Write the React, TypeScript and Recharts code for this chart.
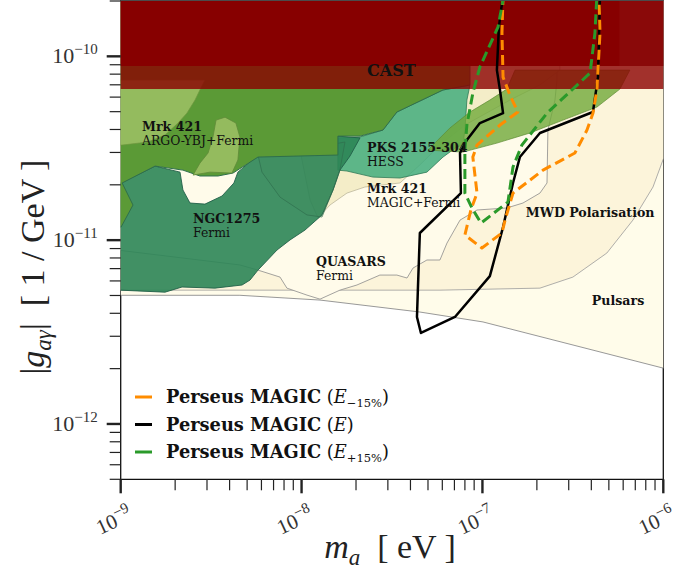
import React from 'react';
import { ComposedChart, Scatter, XAxis, YAxis, ReferenceArea, Customized } from 'recharts';

// all region outlines are [log10(m_a / eV), log10(|g| * GeV)]
type Pt = [number, number];

const CAST_BAND: Pt[] = [[-9.05, -10.178], [-5.95, -10.178], [-5.95, -9.6], [-9.05, -9.6]];
const CAST_CORE: Pt[] = [[-9.05, -10.053], [-6.24, -10.053], [-6.24, -9.6], [-9.05, -9.6]];
const CAST_EDGE: Pt[] = [[-6.24, -10.053], [-5.95, -10.053], [-5.95, -9.6], [-6.24, -9.6]];

const PULSARS: Pt[] = [
  [-9.05, -11.3], [-8.341, -11.3], [-7.898, -11.326], [-7.346, -11.391], [-6.997, -11.445],
  [-5.95, -11.709], [-5.95, -9.6], [-9.05, -9.6],
];

const MWD: Pt[] = [
  [-9.05, -11.272], [-7.235, -11.272], [-6.682, -11.261], [-6.5, -11.201], [-6.312, -11.07],
  [-6.168, -10.891], [-6.057, -10.711], [-6.002, -10.564], [-5.96, -10.483], [-5.95, -9.6], [-9.05, -9.6],
];

const QUASARS: Pt[] = [
  [-9.05, -9.6], [-9.05, -11.05], [-8.341, -11.135], [-8.241, -11.163], [-8.119, -11.201],
  [-8.081, -11.261], [-7.97, -11.299], [-7.898, -11.321], [-7.788, -11.272], [-7.694, -11.244],
  [-7.567, -11.19], [-7.473, -11.19], [-7.417, -11.206], [-7.384, -11.152], [-7.307, -11.108],
  [-7.235, -11.108], [-7.196, -11.016], [-7.124, -10.891], [-7.03, -10.836], [-6.865, -10.825],
  [-6.776, -10.798], [-6.682, -10.744], [-6.643, -10.689], [-6.638, -10.401], [-6.599, -10.238],
  [-6.588, -10.129], [-6.588, -9.6],
];

const MRK421_MAGIC: Pt[] = [
  [-7.909, -10.88], [-7.843, -10.809], [-7.749, -10.744], [-7.65, -10.711], [-7.456, -10.689],
  [-7.346, -10.591], [-7.235, -10.483], [-7.097, -10.374], [-6.848, -10.238], [-6.682, -10.156],
  [-6.572, -10.075], [-6.572, -9.6], [-8.009, -9.6], [-8.009, -10.51], [-7.953, -10.782],
];

const PKS2155: Pt[] = [
  [-7.799, -10.444], [-7.677, -10.439], [-7.55, -10.401], [-7.473, -10.303], [-7.218, -10.183],
  [-7.069, -10.156], [-7.086, -10.238], [-7.097, -10.401], [-7.108, -10.483], [-7.141, -10.493],
  [-7.218, -10.548], [-7.307, -10.63], [-7.456, -10.662], [-7.605, -10.657], [-7.749, -10.624],
  [-7.799, -10.619],
];

const NGC1275: Pt[] = [
  [-9.05, -11.27], [-8.755, -11.283], [-8.661, -11.255], [-8.479, -11.261], [-8.329, -11.244],
  [-8.285, -11.217], [-8.241, -11.163], [-8.136, -11.054], [-8.064, -10.999], [-7.981, -10.945],
  [-7.887, -10.863], [-7.826, -10.727], [-7.788, -10.619], [-7.732, -10.542], [-7.677, -10.444],
  [-7.799, -10.434], [-7.909, -10.493], [-8.108, -10.537], [-8.186, -10.51], [-8.241, -10.537],
  [-8.352, -10.63], [-8.374, -10.689], [-8.44, -10.76], [-8.534, -10.804], [-8.617, -10.798],
  [-8.656, -10.727], [-8.672, -10.63], [-8.81, -10.597], [-9.0, -10.689], [-9.05, -10.7],
];

// faint inner contour visible through the NGC1275 band
const NGC1275_INNER: Pt[] = [
  [-8.241, -10.537], [-8.219, -10.63], [-8.119, -10.766], [-7.97, -10.863], [-7.887, -10.874],
  [-7.826, -10.727], [-7.788, -10.619], [-7.76, -10.466], [-7.909, -10.493], [-8.108, -10.537],
];

const ARGO_MAIN: Pt[] = [
  [-9.05, -9.6], [-7.069, -9.6], [-7.069, -10.156], [-7.218, -10.183], [-7.473, -10.303],
  [-7.55, -10.401], [-7.677, -10.434], [-7.799, -10.434], [-7.799, -10.537], [-8.241, -10.548],
  [-8.379, -10.635], [-8.462, -10.651], [-8.562, -10.651], [-8.656, -10.619], [-8.81, -10.597],
  [-8.992, -10.689], [-8.932, -10.809], [-8.998, -10.929], [-9.05, -10.93],
];

const ARGO_LEFT: Pt[] = [
  [-9.05, -10.129], [-8.534, -10.129], [-8.562, -10.183], [-8.589, -10.238], [-8.634, -10.309],
  [-8.683, -10.363], [-8.755, -10.428], [-8.849, -10.466], [-8.992, -10.483], [-9.05, -10.483],
];

const ARGO_TONGUE: Pt[] = [
  [-8.423, -10.331], [-8.473, -10.347], [-8.49, -10.439], [-8.517, -10.526], [-8.562, -10.581],
  [-8.6, -10.646], [-8.506, -10.63], [-8.385, -10.635], [-8.352, -10.564], [-8.341, -10.439],
  [-8.363, -10.363],
];

const ARGO_LENS: Pt[] = [
  [-7.301, -10.51], [-7.108, -10.521], [-6.92, -10.472], [-6.737, -10.417], [-6.555, -10.347],
  [-6.367, -10.276], [-6.24, -10.178], [-6.185, -10.075], [-6.82, -10.075], [-6.865, -10.178],
  [-6.959, -10.238], [-7.069, -10.303], [-7.18, -10.39], [-7.246, -10.455],
];

const PERSEUS_NOMINAL: Pt[] = [
  [-6.886, -9.666], [-6.909, -9.841], [-6.92, -10.075], [-6.903, -10.183], [-6.886, -10.309],
  [-7.014, -10.363], [-7.086, -10.455], [-7.124, -10.526], [-7.119, -10.744], [-7.346, -10.961],
  [-7.357, -11.272], [-7.362, -11.418], [-7.34, -11.505], [-7.152, -11.418], [-6.959, -11.196],
  [-6.886, -10.929], [-6.831, -10.689], [-6.793, -10.548], [-6.682, -10.417], [-6.389, -10.303],
  [-6.361, -10.113], [-6.35, -9.666],
];

const PERSEUS_MINUS: Pt[] = [
  [-6.886, -9.666], [-6.892, -9.873], [-6.886, -10.113], [-6.848, -10.211], [-6.804, -10.303],
  [-6.903, -10.374], [-7.03, -10.483], [-7.053, -10.548], [-7.03, -10.744], [-7.064, -10.836],
  [-7.097, -10.972], [-7.003, -11.043], [-6.892, -10.961], [-6.875, -10.891], [-6.831, -10.744],
  [-6.665, -10.619], [-6.489, -10.526], [-6.422, -10.401], [-6.389, -10.309], [-6.367, -10.183],
  [-6.35, -9.873], [-6.356, -9.666],
];

const PERSEUS_PLUS: Pt[] = [
  [-6.881, -9.666], [-6.914, -9.841], [-7.014, -10.058], [-7.053, -10.2], [-7.086, -10.374],
  [-7.097, -10.51], [-7.097, -10.744], [-7.058, -10.825], [-7.008, -10.907], [-6.859, -10.793],
  [-6.831, -10.602], [-6.782, -10.483], [-6.643, -10.309], [-6.405, -10.091], [-6.378, -9.873],
  [-6.367, -9.666],
];

// label anchors (left end of the first line's baseline)
const LABELS = [
  { key: 'cast', at: [-7.638, -10.107] as Pt, title: 'CAST', sub: '' },
  { key: 'argo', at: [-8.882, -10.406] as Pt, title: 'Mrk 421', sub: 'ARGO-YBJ+Fermi' },
  { key: 'pks', at: [-7.638, -10.521] as Pt, title: 'PKS 2155-304', sub: 'HESS' },
  { key: 'magic', at: [-7.638, -10.744] as Pt, title: 'Mrk 421', sub: 'MAGIC+Fermi' },
  { key: 'ngc', at: [-8.6, -10.907] as Pt, title: 'NGC1275', sub: 'Fermi' },
  { key: 'quasars', at: [-7.92, -11.141] as Pt, title: 'QUASARS', sub: 'Fermi' },
  { key: 'mwd', at: [-6.76, -10.874] as Pt, title: 'MWD Polarisation', sub: '' },
  { key: 'pulsars', at: [-6.395, -11.353] as Pt, title: 'Pulsars', sub: '' },
];

const LEGEND = [
  { key: 'minus', label: 'Perseus MAGIC', sub: '−15%', color: '#ff8c00' },
  { key: 'nominal', label: 'Perseus MAGIC', sub: '', color: '#000000' },
  { key: 'plus', label: 'Perseus MAGIC', sub: '+15%', color: '#2a9a2a' },
];

const X_DECADES = [-9, -8, -7];
const Y_DECADES = [-13, -12, -11, -10];
const MANTISSAS = [1, 2, 3, 4, 5, 6, 7, 8, 9];
const X_DOMAIN: [number, number] = [1e-9, 1e-6];
const Y_DOMAIN: [number, number] = [5e-13, 2e-10];

const X_TICKS = [...X_DECADES.flatMap((d) => MANTISSAS.map((k) => k * 10 ** d)), 1e-6];
const Y_TICKS = Y_DECADES.flatMap((d) => MANTISSAS.map((k) => k * 10 ** d)).filter(
  (v) => v >= Y_DOMAIN[0] * 0.999 && v <= Y_DOMAIN[1] * 1.001,
);

const toData = (pts: Pt[]) => pts.map(([lm, lg]) => ({ m: 10 ** lm, g: 10 ** lg }));

const REGIONS = [
  { key: 'pulsars', pts: PULSARS, fill: '#fffcea', opacity: 1, stroke: '#8c8c8c', sw: 0.9 },
  { key: 'mwd', pts: MWD, fill: '#fcf4da', opacity: 1, stroke: '#9a9a9a', sw: 0.8 },
  { key: 'quasars', pts: QUASARS, fill: '#fffbea', opacity: 1, stroke: '#8c8c8c', sw: 0.8 },
  { key: 'magic', pts: MRK421_MAGIC, fill: '#f4edc8', opacity: 1, stroke: '#a8a288', sw: 0.6 },
  { key: 'pks', pts: PKS2155, fill: '#42ac7c', opacity: 0.85, stroke: '#2f7a57', sw: 0.8 },
  { key: 'ngc', pts: NGC1275, fill: '#2c8556', opacity: 0.9, stroke: '#22604a', sw: 0.9 },
  { key: 'ngcInner', pts: NGC1275_INNER, fill: '#3f7f3a', opacity: 0.05, stroke: '#2f6e4e', sw: 0.7 },
  { key: 'argoMain', pts: ARGO_MAIN, fill: '#5b9a36', opacity: 1, stroke: '#2f6f4c', sw: 1 },
  { key: 'argoLeft', pts: ARGO_LEFT, fill: '#94bb5e', opacity: 1, stroke: '#6f963f', sw: 0.7 },
  { key: 'argoTongue', pts: ARGO_TONGUE, fill: '#94bb5e', opacity: 1, stroke: '#5f8a38', sw: 0.8 },
  { key: 'argoLens', pts: ARGO_LENS, fill: '#70a939', opacity: 0.8, stroke: '#5d8b33', sw: 0.7 },
  { key: 'castBand', pts: CAST_BAND, fill: '#8b0000', opacity: 0.8, stroke: 'none', sw: 0 },
  { key: 'castCore', pts: CAST_CORE, fill: '#870000', opacity: 1, stroke: 'none', sw: 0 },
  { key: 'castEdge', pts: CAST_EDGE, fill: '#8a0909', opacity: 1, stroke: 'none', sw: 0 },
];

const CONTOURS = [
  { key: 'nominal', pts: PERSEUS_NOMINAL, color: '#000000', dash: undefined, width: 2.5 },
  { key: 'minus', pts: PERSEUS_MINUS, color: '#ff8c00', dash: '10 5', width: 3 },
  { key: 'plus', pts: PERSEUS_PLUS, color: '#2a9a2a', dash: '10 5', width: 3 },
];

const SERIF = '"DejaVu Serif", serif';
const TICK_FONT = '"Liberation Serif", serif';

const isMajor = (v: number) => Math.abs(Math.log10(v) - Math.round(Math.log10(v))) < 1e-6;
const expOf = (v: number) => {
  const e = Math.round(Math.log10(v));
  return (e < 0 ? '−' : '') + Math.abs(e);
};

function XTick({ x, y, payload }: any) {
  const v = payload.value;
  const major = isMajor(v);
  return (
    <g>
      <line x1={x} x2={x} y1={y} y2={y + (major ? 14 : 11)} stroke="#222" strokeWidth={major ? 2.4 : 1.2} />
      {major && (
        <text
          transform={`translate(${x + 13},${y + 40}) rotate(-25)`}
          textAnchor="end"
          fontFamily={TICK_FONT}
          fontSize={21}
          fill="#333"
        >
          10
          <tspan dy={-9} fontSize={15}>
            {expOf(v)}
          </tspan>
        </text>
      )}
    </g>
  );
}

function YTick({ x, y, payload }: any) {
  const v = payload.value;
  const major = isMajor(v);
  return (
    <g>
      <line x1={x - (major ? 14 : 11)} x2={x} y1={y} y2={y} stroke="#222" strokeWidth={major ? 2.4 : 1.2} />
      {major && (
        <text x={x - 23} y={y + 7} textAnchor="end" fontFamily={TICK_FONT} fontSize={22} fill="#333">
          10
          <tspan dy={-9} fontSize={15}>
            {expOf(v)}
          </tspan>
        </text>
      )}
    </g>
  );
}

function RegionLabel({ cx, cy, title, sub, big }: any) {
  return (
    <g fontFamily={SERIF} fill="#111">
      <text x={cx} y={cy} fontSize={big ? 16 : 12.6} fontWeight="bold">
        {title}
      </text>
      {sub && (
        <text x={cx} y={cy + 14} fontSize={12.4}>
          {sub}
        </text>
      )}
    </g>
  );
}

function Titles() {
  return (
    <g fill="#222" fontFamily={TICK_FONT}>
      <text x={390} y={558} textAnchor="middle" fontSize={34} style={{ whiteSpace: 'pre' }}>
        <tspan fontStyle="italic">m</tspan>
        <tspan dy={7} fontSize={23} fontStyle="italic">a</tspan>
        <tspan dy={-7}>{'  [ eV ]'}</tspan>
      </text>
      <text transform="translate(44,267) rotate(-90)" textAnchor="middle" fontSize={34} style={{ whiteSpace: 'pre' }}>
        <tspan>|</tspan>
        <tspan fontStyle="italic">g</tspan>
        <tspan dy={7} fontSize={23} fontStyle="italic">aγ</tspan>
        <tspan dy={-7}>{'|  [ 1 / GeV ]'}</tspan>
      </text>
      <g fontFamily={SERIF}>
        {LEGEND.map((l, i) => {
          const cy = 397 + i * 27.5;
          return (
            <g key={l.key}>
              <line x1={135} x2={152} y1={cy} y2={cy} stroke={l.color} strokeWidth={3} />
              <text x={166} y={cy + 6} fontSize={17.8} fill="#111" style={{ whiteSpace: 'pre' }}>
                <tspan fontWeight="bold">{l.label}</tspan>
                <tspan>{' ('}</tspan>
                <tspan fontStyle="italic">E</tspan>
                {l.sub && (
                  <tspan dy={4} fontSize={11.5}>
                    {l.sub}
                  </tspan>
                )}
                <tspan dy={l.sub ? -4 : 0}>)</tspan>
              </text>
            </g>
          );
        })}
      </g>
    </g>
  );
}

const noDot = () => <g />;

export default function App() {
  return (
    <div style={{ position: 'absolute', left: 0, top: 0, background: '#fff' }}>
      <ComposedChart width={678} height={573} margin={{ top: 1, right: 14.7, bottom: 33.7, left: 20.7 }}>
        <XAxis
          type="number"
          dataKey="m"
          scale="log"
          domain={X_DOMAIN}
          allowDataOverflow
          ticks={X_TICKS}
          interval={0}
          tickSize={0}
          tickMargin={0}
          tickLine={false}
          axisLine={false}
          tick={<XTick />}
          height={60}
        />
        <YAxis
          type="number"
          dataKey="g"
          scale="log"
          domain={Y_DOMAIN}
          allowDataOverflow
          ticks={Y_TICKS}
          interval={0}
          tickSize={0}
          tickMargin={0}
          tickLine={false}
          axisLine={false}
          tick={<YTick />}
          width={100}
        />
        {REGIONS.map((r) => (
          <Scatter
            key={r.key}
            data={toData(r.pts)}
            shape={noDot}
            line={{ fill: r.fill, fillOpacity: r.opacity, stroke: r.stroke, strokeWidth: r.sw }}
            lineJointType="linearClosed"
            legendType="none"
            isAnimationActive={false}
          />
        ))}
        {CONTOURS.map((c) => (
          <Scatter
            key={c.key}
            data={toData(c.pts)}
            shape={noDot}
            line={{ fill: 'none', stroke: c.color, strokeWidth: c.width, strokeDasharray: c.dash, strokeLinejoin: 'round' }}
            lineJointType="linear"
            legendType="none"
            isAnimationActive={false}
          />
        ))}
        {LABELS.map((l) => (
          <Scatter
            key={l.key}
            data={toData([l.at])}
            shape={(p: any) => <RegionLabel cx={p.cx} cy={p.cy} title={l.title} sub={l.sub} big={l.key === 'cast'} />}
            legendType="none"
            isAnimationActive={false}
          />
        ))}
        <ReferenceArea
          x1={X_DOMAIN[0]}
          x2={X_DOMAIN[1]}
          y1={Y_DOMAIN[0]}
          y2={Y_DOMAIN[1]}
          fill="none"
          stroke="#111"
          strokeWidth={1.3}
          ifOverflow="visible"
        />
        <Customized component={Titles} />
      </ComposedChart>
    </div>
  );
}
